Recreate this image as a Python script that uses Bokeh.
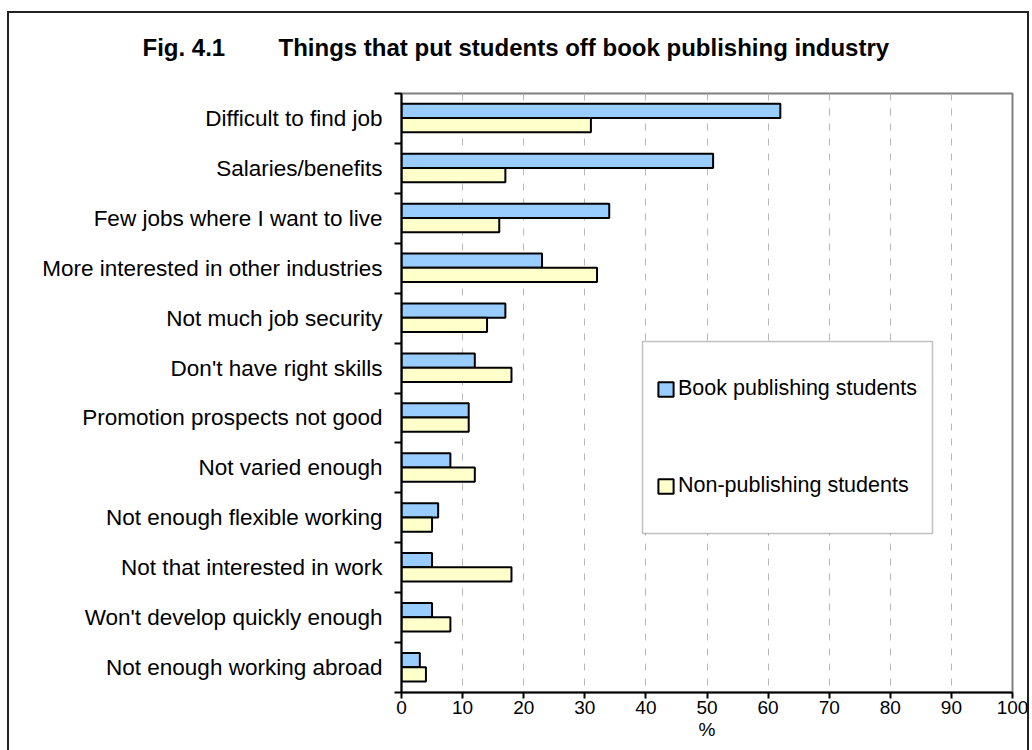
import numpy as np
from bokeh.plotting import figure
from bokeh.models import (Range1d, FixedTicker, Legend, LegendItem, Title,
                          BoxAnnotation, ColumnDataSource)
from bokeh.transform import dodge
from bokeh.embed import file_html
from bokeh.resources import INLINE

categories = [
    "Difficult to find job",
    "Salaries/benefits",
    "Few jobs where I want to live",
    "More interested in other industries",
    "Not much job security",
    "Don't have right skills",
    "Promotion prospects not good",
    "Not varied enough",
    "Not enough flexible working",
    "Not that interested in work",
    "Won't develop quickly enough",
    "Not enough working abroad",
]
book_publishing = [62, 51, 34, 23, 17, 12, 11, 8, 6, 5, 5, 3]
non_publishing = [31, 17, 16, 32, 14, 18, 11, 12, 5, 18, 8, 4]
x_ticks = list(range(0, 101, 10))
title_text = "Fig. 4.1" + "\u00a0" * 8 + "Things that put students off book publishing industry"

FONT = "Liberation Sans"

pos = [i + 0.5 for i in range(len(categories))]
src = ColumnDataSource(dict(cat=categories, pos=pos,
                            book=book_publishing, non=non_publishing))

p = figure(width=1032, height=750, output_backend="svg", toolbar_location=None,
           x_range=Range1d(0, 100), y_range=Range1d(len(categories), 0),
           min_border_left=401, min_border_right=20, min_border_top=93,
           min_border_bottom=58)
p.background_fill_color = "white"
p.border_fill_alpha = 0
p.outline_line_color = "#808080"
p.outline_line_width = 2

# outer chart border, drawn as the page element's background (the canvas is
# transparent outside the plot frame)
p.styles = {
    "background": ("linear-gradient(#222,#222) 7px 11px / 1022px 2px no-repeat, "
                   "linear-gradient(#222,#222) 7px 11px / 2px 760px no-repeat, "
                   "linear-gradient(#222,#222) 1027px 11px / 2px 760px no-repeat, "
                   "white"),
}

p.title = Title(text=title_text, align="left", offset=-259, standoff=62,
                vertical_align="top",
                text_font=FONT, text_font_size="24px", text_font_style="bold",
                text_color="black")

r_book = p.hbar(y=dodge("pos", -0.15, range=p.y_range), left=0, right="book",
                height=0.285, fill_color="#99CCFF", line_color="black",
                line_width=2, source=src)
r_non = p.hbar(y=dodge("pos", 0.135, range=p.y_range), left=0, right="non",
               height=0.285, fill_color="#FFFFCC", line_color="black",
               line_width=2, source=src)

# x axis
xa = p.xaxis[0]
xa.ticker = FixedTicker(ticks=x_ticks, minor_ticks=[])
xa.major_tick_out = 6
xa.major_tick_in = 0
xa.axis_line_width = 2
xa.major_tick_line_width = 2
xa.major_label_text_font = FONT
xa.major_label_text_font_size = "19px"
xa.major_label_text_color = "black"
xa.major_label_standoff = 2
xa.axis_label = "%"
xa.axis_label_text_font = FONT
xa.axis_label_text_font_size = "19px"
xa.axis_label_text_font_style = "normal"
xa.axis_label_text_color = "black"
xa.axis_label_standoff = 2

# y axis
ya = p.yaxis[0]
ya.ticker = FixedTicker(ticks=pos, minor_ticks=list(range(len(categories) + 1)))
ya.major_label_overrides = {float(v): c for v, c in zip(pos, categories)}
ya.major_tick_out = 0
ya.major_tick_in = 0
ya.minor_tick_out = 7
ya.minor_tick_in = 0
ya.minor_tick_line_color = "black"
ya.minor_tick_line_width = 2
ya.axis_line_width = 2
ya.major_label_text_font = FONT
ya.major_label_text_font_size = "22.5px"
ya.major_label_text_color = "black"
ya.major_label_standoff = 12

p.xgrid.ticker = FixedTicker(ticks=x_ticks)
p.xgrid.grid_line_color = "#b8b8b8"
p.xgrid.grid_line_dash = "7 8"
p.xgrid.grid_line_width = 1
p.ygrid.visible = False

# legend frame
p.add_layout(BoxAnnotation(left=241, right=531, bottom=159, top=351,
                           left_units="screen", right_units="screen",
                           top_units="screen", bottom_units="screen",
                           fill_color="white", fill_alpha=1,
                           line_color="#333333", line_width=1.5))

legend = Legend(items=[LegendItem(label="Book publishing students", renderers=[r_book]),
                       LegendItem(label="Non-publishing students", renderers=[r_non])],
                location=(255, 194), padding=0, margin=0, spacing=72,
                glyph_width=19, glyph_height=18, label_height=24,
                label_standoff=3, label_text_font=FONT,
                label_text_font_size="21.5px", label_text_color="black",
                border_line_alpha=0, background_fill_alpha=0)
p.add_layout(legend)

open("out.html", "w").write(file_html(p, INLINE))
